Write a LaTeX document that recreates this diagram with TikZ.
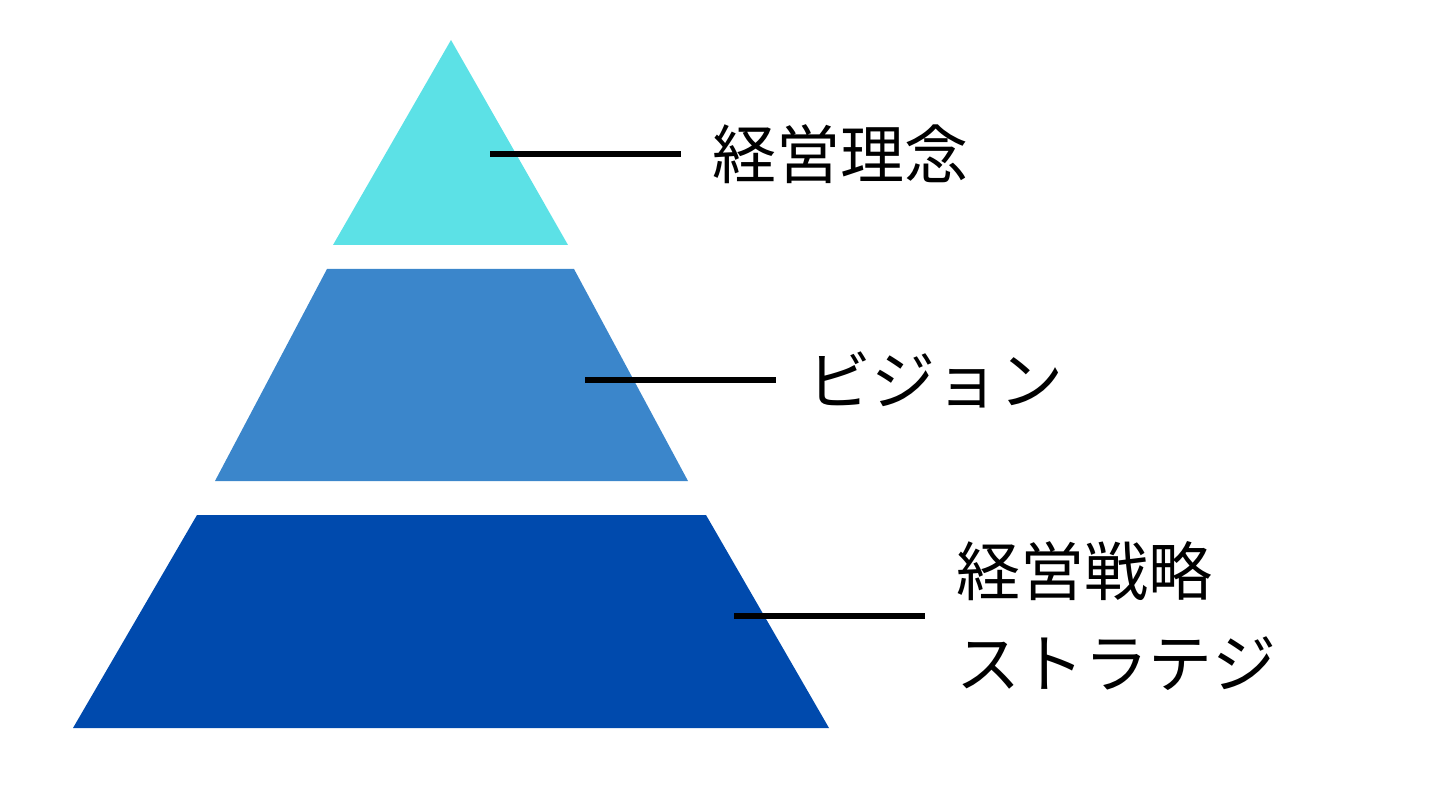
\documentclass[tikz,border=0pt]{standalone}
\usepackage{fontspec}
\newfontfamily\jpfont{Noto Sans CJK JP}
\usetikzlibrary{positioning}
\definecolor{tiertop}{HTML}{5CE1E6}
\definecolor{tiermid}{HTML}{3B86CB}
\definecolor{tierbot}{HTML}{004AAD}

\begin{document}
\begin{tikzpicture}[
    x=1pt, y=-1pt,
    tag/.style={anchor=west, inner xsep=31pt, inner ysep=0pt, align=left,
        font=\jpfont\fontsize{64}{92}\selectfont},
    leader/.style={line width=5.5pt}
]
\useasboundingbox (0,0) rectangle (1440,810);

\fill[tiertop] (451,40) -- (568,245) -- (333,245) -- cycle;
\fill[tiermid] (327,269) -- (574,269) -- (688,481) -- (215,481) -- cycle;
\fill[tierbot] (197,515) -- (706,515) -- (829,728) -- (73,728) -- cycle;

\coordinate (missionpt) at (490,154);
\coordinate (visionpt) at (585,380);
\coordinate (strategypt) at (734,616);

\node[tag] (mission) at (681,154) {経営理念};
\node[tag] (vision) at (776,380) {ビジョン};
\node[tag] (strategy) at (925,616) {経営戦略\\ストラテジ};

\draw[leader] (missionpt) -- (mission.west);
\draw[leader] (visionpt) -- (vision.west);
\draw[leader] (strategypt) -- (strategy.west);

\end{tikzpicture}
\end{document}
